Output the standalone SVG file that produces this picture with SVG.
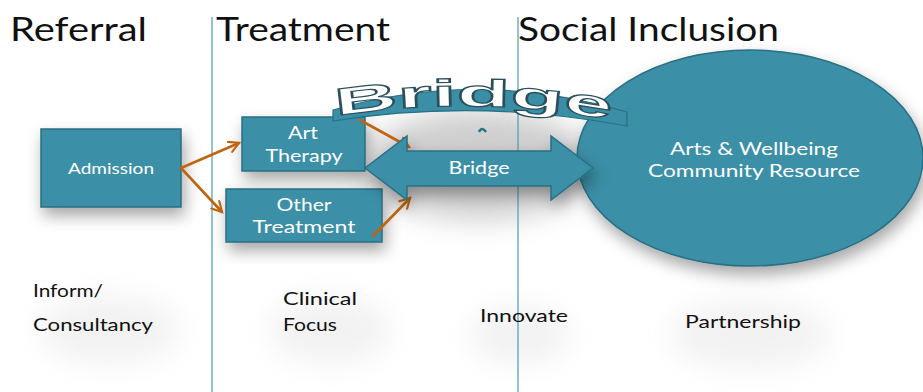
<svg xmlns="http://www.w3.org/2000/svg" width="923" height="392" viewBox="0 0 923 392">
<defs>
<style>
.box{fill:#3A8FA7;stroke:#2A6F82;stroke-width:1.5}
.bt{fill:#ffffff;font-family:"Lato","Liberation Sans",sans-serif;text-anchor:middle}
.title{fill:#111;font-family:"Lato","Liberation Sans",sans-serif;font-size:32px}
.lab{fill:#111;font-family:"Lato","Liberation Sans",sans-serif;font-size:17px}
.col{stroke:#4C9BB2;stroke-width:1.2}
.con{fill:none;stroke:#C0640F;stroke-width:2.6;stroke-linecap:round}
</style>
<filter id="sh" x="-30%" y="-30%" width="160%" height="170%">
<feDropShadow dx="3" dy="8" stdDeviation="8" flood-color="#000" flood-opacity="0.35"/>
</filter>
<filter id="blur" x="-50%" y="-50%" width="200%" height="200%">
<feGaussianBlur stdDeviation="14"/>
</filter>
<marker id="ah" viewBox="0 0 12 12" refX="10" refY="6" markerWidth="5" markerHeight="5" orient="auto" markerUnits="strokeWidth">
<path d="M1,1 L10,6 L1,11" fill="none" stroke="#C0640F" stroke-width="2" stroke-linecap="round"/>
</marker>
<path id="arcpath" d="M336,116 Q478,94 616,121"/>
</defs>
<rect width="923" height="392" fill="#ffffff"/>
<!-- soft background shading -->
<g filter="url(#blur)" fill="#e2e2e2" opacity="0.45">
<ellipse cx="110" cy="330" rx="70" ry="35"/>
<ellipse cx="330" cy="330" rx="60" ry="35"/>
<ellipse cx="520" cy="335" rx="50" ry="30"/>
<ellipse cx="750" cy="335" rx="80" ry="35"/>
</g>
<ellipse cx="480" cy="165" rx="115" ry="55" fill="#c2c2c2" filter="url(#blur)" opacity="0.8"/>
<!-- column lines -->
<g id="columns">
<line class="col" x1="212" y1="17" x2="212" y2="392"/>
<line class="col" x1="518" y1="17" x2="518" y2="392"/>
</g>
<!-- titles -->
<g id="titles">
<text class="title" x="10" y="41" textLength="137" lengthAdjust="spacingAndGlyphs">Referral</text>
<text class="title" x="216" y="41" textLength="174" lengthAdjust="spacingAndGlyphs">Treatment</text>
<text class="title" x="518" y="41" textLength="261" lengthAdjust="spacingAndGlyphs">Social Inclusion</text>
</g>
<!-- nodes -->
<g id="admission">
<rect class="box" x="41" y="129" width="140" height="78" filter="url(#sh)"/>
<text class="bt" x="111" y="174" font-size="16" textLength="86" lengthAdjust="spacingAndGlyphs">Admission</text>
</g>
<g id="art-therapy">
<rect class="box" x="242" y="117" width="123" height="54" filter="url(#sh)"/>
<text class="bt" x="303" y="139" font-size="17" textLength="30" lengthAdjust="spacingAndGlyphs">Art</text>
<text class="bt" x="304" y="162" font-size="17" textLength="77" lengthAdjust="spacingAndGlyphs">Therapy</text>
</g>
<g id="other-treatment">
<rect class="box" x="226" y="189" width="156" height="53" filter="url(#sh)"/>
<text class="bt" x="304" y="211" font-size="17" textLength="55" lengthAdjust="spacingAndGlyphs">Other</text>
<text class="bt" x="304" y="233" font-size="17" textLength="103" lengthAdjust="spacingAndGlyphs">Treatment</text>
</g>
<g id="community-resource">
<ellipse cx="750" cy="158" rx="173" ry="108" fill="#3A8FA7" stroke="#2A6F82" stroke-width="1.5" filter="url(#sh)"/>
<text class="bt" x="754" y="155" font-size="17" textLength="168" lengthAdjust="spacingAndGlyphs">Arts &amp; Wellbeing</text>
<text class="bt" x="754" y="177" font-size="17" textLength="212" lengthAdjust="spacingAndGlyphs">Community Resource</text>
</g>
<!-- connectors -->
<g id="connectors">
<line class="con" x1="181" y1="168" x2="239" y2="143" marker-end="url(#ah)"/>
<line class="con" x1="181" y1="168" x2="222" y2="212" marker-end="url(#ah)"/>
<line class="con" x1="360" y1="120" x2="409" y2="147" marker-end="url(#ah)"/>
<line class="con" x1="373" y1="236" x2="410" y2="198" marker-end="url(#ah)"/>
</g>
<g id="bridge-arrow">
<path d="M365,168 L407,136 L407,151 L551,151 L551,136 L593,168 L551,200 L551,186 L407,186 L407,200 Z" class="box" filter="url(#sh)"/>
<text class="bt" x="479" y="174" font-size="17" textLength="61" lengthAdjust="spacingAndGlyphs">Bridge</text>
</g>
<!-- arch -->
<g id="bridge-arch">
<path d="M333,110 Q478,68 627,112 L627,126 Q478,98 333,121 Z" fill="#3A8FA7" stroke="#2A6F82" stroke-width="1.2"/>
<text font-family="'Liberation Sans',sans-serif" font-weight="bold" font-size="38" fill="#ffffff" stroke="#2B4F5C" stroke-width="1.2"><textPath href="#arcpath" textLength="276" lengthAdjust="spacingAndGlyphs">Bridge</textPath></text>
<path d="M479,132 Q482,126 486,132" fill="none" stroke="#2A6F82" stroke-width="2.5"/>
</g>
<!-- bottom labels -->
<g id="labels">
<text class="lab" x="33" y="297" textLength="70" lengthAdjust="spacingAndGlyphs">Inform/</text>
<text class="lab" x="33" y="331" textLength="120" lengthAdjust="spacingAndGlyphs">Consultancy</text>
<text class="lab" x="283" y="305" textLength="74" lengthAdjust="spacingAndGlyphs">Clinical</text>
<text class="lab" x="283" y="331" textLength="54" lengthAdjust="spacingAndGlyphs">Focus</text>
<text class="lab" x="480" y="322" textLength="88" lengthAdjust="spacingAndGlyphs">Innovate</text>
<text class="lab" x="685" y="328" textLength="116" lengthAdjust="spacingAndGlyphs">Partnership</text>
</g>
</svg>
